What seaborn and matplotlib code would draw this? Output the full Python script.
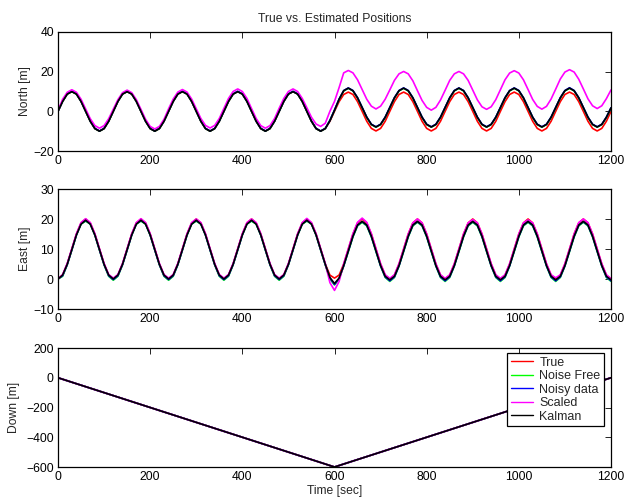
import matplotlib
matplotlib.use("Agg")
import matplotlib.pyplot as plt
import seaborn as sns
import pandas as pd

# ---------------- data ----------------
series_names = ["True", "Noise Free", "Noisy data", "Scaled", "Kalman"]
series_colors = ["#ff0000", "#00ff00", "#0000ff", "#ff00ff", "#000000"]

time = list(range(0, 1201, 10))  # seconds, 10 s sampling

north_true = [
    0, 5, 8.7, 10, 8.7, 5, 0, -5, -8.7, -10, -8.7, -5,
    0, 5, 8.7, 10, 8.7, 5, 0, -5, -8.7, -10, -8.7, -5,
    0, 5, 8.7, 10, 8.7, 5, 0, -5, -8.7, -10, -8.7, -5,
    0, 5, 8.7, 10, 8.7, 5, 0, -5, -8.7, -10, -8.7, -5,
    0, 5, 8.7, 10, 8.7, 5, 0, -5, -8.7, -10, -8.7, -5,
    0, 4.9, 8.5, 9.7, 8.5, 4.9, 0, -5, -8.6, -9.9, -8.6, -5,
    0, 4.9, 8.5, 9.7, 8.5, 4.9, 0, -5, -8.6, -9.9, -8.6, -5,
    0, 4.9, 8.5, 9.7, 8.5, 4.9, 0, -5, -8.6, -9.9, -8.6, -5,
    0, 4.9, 8.5, 9.7, 8.5, 4.9, 0, -5, -8.6, -9.9, -8.6, -5,
    0, 4.9, 8.5, 9.7, 8.5, 4.9, 0, -5, -8.6, -9.9, -8.6, -5,
    0,
]
north_noisefree = [
    0, 5, 8.7, 10, 8.7, 5, 0, -5, -8.7, -10, -8.7, -5,
    0, 5, 8.7, 10, 8.7, 5, 0, -5, -8.7, -10, -8.7, -5,
    0, 5, 8.7, 10, 8.7, 5, 0, -5, -8.7, -10, -8.7, -5,
    0, 5, 8.7, 10, 8.7, 5, 0, -5, -8.7, -10, -8.7, -5,
    0, 5, 8.7, 10, 8.7, 5, 0, -5, -8.7, -10, -8.7, -4.5,
    0.5, 6, 10.3, 11.6, 10.3, 6.7, 1.8, -3.1, -6.7, -8, -6.7, -3.1,
    1.8, 6.7, 10.3, 11.6, 10.3, 6.7, 1.8, -3.1, -6.7, -8, -6.7, -3.1,
    1.8, 6.7, 10.3, 11.6, 10.3, 6.7, 1.8, -3.1, -6.7, -8, -6.7, -3.1,
    1.8, 6.7, 10.3, 11.6, 10.3, 6.7, 1.8, -3.1, -6.7, -8, -6.7, -3.1,
    1.8, 6.7, 10.3, 11.6, 10.3, 6.7, 1.8, -3.1, -6.7, -8, -6.7, -3.1,
    1.6,
]
north_noisy = [
    0, 5.1, 8.8, 10.1, 8.8, 5.1, 0.1, -4.9, -8.6, -9.9, -8.6, -4.9,
    0.1, 5.1, 8.8, 10.1, 8.8, 5.1, 0.1, -4.9, -8.6, -9.9, -8.6, -4.9,
    0.1, 5.1, 8.8, 10.1, 8.8, 5.1, 0.1, -4.9, -8.6, -9.9, -8.6, -4.9,
    0.1, 5.1, 8.8, 10.1, 8.8, 5.1, 0.1, -4.9, -8.6, -9.9, -8.6, -4.9,
    0.1, 5.1, 8.8, 10.1, 8.8, 5.1, 0.1, -4.9, -8.6, -9.9, -8.6, -4.6,
    0.7, 6.2, 10.5, 11.8, 10.5, 6.9, 2, -2.9, -6.5, -7.8, -6.5, -2.9,
    2, 6.9, 10.5, 11.8, 10.5, 6.9, 2, -2.9, -6.5, -7.8, -6.5, -2.9,
    2, 6.9, 10.5, 11.8, 10.5, 6.9, 2, -2.9, -6.5, -7.8, -6.5, -2.9,
    2, 6.9, 10.5, 11.8, 10.5, 6.9, 2, -2.9, -6.5, -7.8, -6.5, -2.9,
    2, 6.9, 10.5, 11.9, 10.5, 6.9, 2, -2.9, -6.5, -7.8, -6.5, -2.9,
    1.8,
]
north_scaled = [
    0.4, 6.1, 9.6, 10.9, 9.6, 6.1, 1.2, -3.7, -7.2, -8.5, -7.2, -3.7,
    1.1, 5.9, 9.4, 10.7, 9.4, 5.9, 1.0, -4.0, -7.6, -8.9, -7.6, -4.0,
    1.3, 6.2, 9.7, 11.0, 9.7, 6.2, 1.3, -3.6, -7.1, -8.4, -7.1, -3.6,
    1.5, 6.5, 10.0, 11.3, 10.0, 6.5, 1.4, -3.6, -7.2, -8.5, -7.2, -3.6,
    1.6, 6.5, 10.0, 11.3, 10.0, 6.5, 1.8, -3.0, -6.4, -7.6, -6.0, 0.0,
    5.0, 12.0, 19.4, 20.6, 19.4, 15.9, 11.0, 6.1, 2.6, 1.2, 2.6, 6.1,
    10.8, 15.6, 18.9, 20.1, 18.9, 15.4, 10.4, 5.5, 2.0, 0.6, 2.0, 5.7,
    10.6, 15.6, 18.9, 20.1, 18.9, 15.6, 10.7, 5.8, 2.3, 1.0, 2.3, 5.9,
    10.9, 15.9, 19.3, 20.5, 19.3, 15.9, 11.0, 6.0, 2.5, 1.1, 2.5, 6.2,
    11.2, 16.3, 19.8, 21.0, 19.8, 16.2, 11.3, 6.3, 2.8, 1.4, 2.8, 6.4,
    10.8,
]
north_kalman = [
    0, 5, 8.7, 9.9, 8.7, 5, 0, -5, -8.7, -10, -8.7, -5,
    0, 5, 8.7, 9.9, 8.7, 5, 0, -5, -8.7, -10, -8.7, -5,
    0, 5, 8.7, 9.9, 8.7, 5, 0, -5, -8.7, -10, -8.7, -5,
    0, 5, 8.7, 9.9, 8.7, 5, 0, -5, -8.7, -10, -8.7, -5,
    0, 5, 8.7, 9.9, 8.7, 5, 0, -5, -8.7, -10, -8.7, -4.8,
    0.5, 6.1, 10.4, 11.7, 10.4, 6.8, 1.9, -3, -6.6, -7.9, -6.6, -3,
    1.9, 6.8, 10.4, 11.7, 10.4, 6.8, 1.9, -3, -6.6, -7.9, -6.6, -3,
    1.9, 6.8, 10.4, 11.7, 10.4, 6.8, 1.9, -3, -6.6, -7.9, -6.6, -3,
    1.9, 6.8, 10.4, 11.7, 10.4, 6.8, 1.9, -3, -6.6, -7.9, -6.6, -3,
    1.9, 6.8, 10.4, 11.7, 10.4, 6.8, 1.9, -3, -6.6, -7.9, -6.6, -3,
    1.7,
]

east_true = [
    0, 1.3, 5, 10, 15, 18.7, 20, 18.7, 15, 10, 5, 1.3,
    0, 1.3, 5, 10, 15, 18.7, 20, 18.7, 15, 10, 5, 1.3,
    0, 1.3, 5, 10, 15, 18.7, 20, 18.7, 15, 10, 5, 1.3,
    0, 1.3, 5, 10, 15, 18.7, 20, 18.7, 15, 10, 5, 1.3,
    0, 1.3, 5, 10, 15, 18.7, 20, 18.7, 15, 10, 5, 1.3,
    0.3, 1.3, 5, 10, 15, 18.7, 20, 18.7, 15, 10, 5, 1.3,
    0, 1.3, 5, 10, 15, 18.7, 20, 18.7, 15, 10, 5, 1.3,
    0, 1.3, 5, 10, 15, 18.7, 20, 18.7, 15, 10, 5, 1.3,
    0, 1.3, 5, 10, 15, 18.7, 20, 18.7, 15, 10, 5, 1.3,
    0, 1.3, 5, 10, 15, 18.7, 20, 18.7, 15, 10, 5, 1.3,
    0,
]
east_noisefree = [
    0, 0.9, 4.7, 9.6, 14.6, 18.3, 19.3, 18.3, 14.6, 9.6, 4.7, 0.9,
    -0.4, 0.9, 4.7, 9.6, 14.6, 18.3, 19.3, 18.3, 14.6, 9.6, 4.7, 0.9,
    -0.4, 0.9, 4.7, 9.6, 14.6, 18.3, 19.3, 18.3, 14.6, 9.6, 4.7, 0.9,
    -0.4, 0.9, 4.7, 9.6, 14.6, 18.3, 19.3, 18.3, 14.6, 9.6, 4.7, 0.9,
    -0.4, 0.9, 4.7, 9.6, 14.6, 18.3, 19.3, 18.3, 14.6, 9.6, 4.7, 0.0,
    -2.0, 0.0, 4.3, 9.1, 14.0, 17.7, 18.9, 17.7, 14.0, 9.1, 4.3, 0.5,
    -0.8, 0.5, 4.3, 9.1, 14.0, 17.7, 18.9, 17.7, 14.0, 9.1, 4.3, 0.5,
    -0.8, 0.5, 4.3, 9.1, 14.0, 17.7, 18.9, 17.7, 14.0, 9.1, 4.3, 0.5,
    -0.8, 0.5, 4.3, 9.1, 14.0, 17.7, 18.9, 17.7, 14.0, 9.1, 4.3, 0.5,
    -0.8, 0.5, 4.3, 9.1, 14.0, 17.7, 18.9, 17.7, 14.0, 9.1, 4.3, 0.5,
    -0.8,
]
east_noisy = [
    0, 1.1, 4.8, 9.7, 14.7, 18.4, 19.5, 18.4, 14.7, 9.7, 4.8, 1.1,
    -0.2, 1.1, 4.8, 9.7, 14.7, 18.4, 19.5, 18.4, 14.7, 9.7, 4.8, 1.1,
    -0.2, 1.1, 4.8, 9.7, 14.7, 18.4, 19.5, 18.4, 14.7, 9.7, 4.8, 1.1,
    -0.2, 1.1, 4.8, 9.7, 14.7, 18.4, 19.5, 18.4, 14.7, 9.7, 4.8, 1.1,
    -0.2, 1.1, 4.8, 9.7, 14.7, 18.4, 19.5, 18.4, 14.7, 9.7, 4.8, 0.3,
    -1.8, 0.2, 4.4, 9.3, 14.2, 17.9, 19.1, 17.9, 14.2, 9.3, 4.4, 0.7,
    -0.6, 0.7, 4.4, 9.3, 14.2, 17.9, 19.1, 17.9, 14.2, 9.3, 4.4, 0.7,
    -0.6, 0.7, 4.4, 9.3, 14.2, 17.9, 19.1, 17.9, 14.2, 9.3, 4.4, 0.7,
    -0.6, 0.7, 4.4, 9.3, 14.2, 17.9, 19.1, 17.9, 14.2, 9.3, 4.4, 0.7,
    -0.6, 0.7, 4.4, 9.3, 14.2, 17.9, 19.1, 17.9, 14.2, 9.3, 4.4, 0.7,
    -0.6,
]
east_scaled = [
    0, 1.5, 5.2, 10.1, 15.1, 18.8, 20.1, 18.8, 15.1, 10.1, 5.2, 1.5,
    0.3, 1.5, 5.2, 10.1, 15.1, 18.8, 20.1, 18.8, 15.1, 10.1, 5.2, 1.5,
    0.3, 1.5, 5.2, 10.1, 15.1, 18.8, 20.0, 18.8, 15.1, 10.1, 5.2, 1.5,
    0.3, 1.5, 5.2, 10.1, 15.1, 18.8, 20.0, 18.8, 15.1, 10.1, 5.2, 1.5,
    0.3, 1.5, 5.2, 10.1, 15.1, 18.8, 20.2, 18.8, 15.1, 10.1, 5.2, -1.2,
    -3.8, -0.8, 5.1, 10.1, 15.1, 18.9, 20.3, 18.9, 15.1, 10.1, 5.1, 1.4,
    0.2, 1.4, 5.1, 10.0, 15.0, 18.7, 20.0, 18.7, 15.0, 10.0, 5.1, 1.4,
    0.2, 1.4, 5.1, 10.0, 15.0, 18.7, 19.8, 18.7, 15.0, 10.0, 5.1, 1.4,
    0.2, 1.4, 5.1, 10.0, 15.0, 18.7, 19.7, 18.7, 15.0, 10.0, 5.1, 1.4,
    0.4, 1.4, 5.1, 10.0, 15.0, 18.8, 20.0, 18.8, 15.0, 10.0, 5.1, 1.4,
    0.1,
]
east_kalman = [
    0, 1.3, 4.9, 9.8, 14.7, 18.3, 19.6, 18.3, 14.7, 9.8, 4.9, 1.3,
    0, 1.3, 4.9, 9.8, 14.7, 18.3, 19.6, 18.3, 14.7, 9.8, 4.9, 1.3,
    0, 1.3, 4.9, 9.8, 14.7, 18.3, 19.6, 18.3, 14.7, 9.8, 4.9, 1.3,
    0, 1.3, 4.9, 9.8, 14.7, 18.3, 19.6, 18.3, 14.7, 9.8, 4.9, 1.3,
    0, 1.3, 4.9, 9.8, 14.7, 18.3, 19.6, 18.3, 14.7, 9.8, 4.9, 0.5,
    -1.5, 0.3, 4.5, 9.4, 14.3, 18.0, 19.2, 18.0, 14.3, 9.4, 4.5, 0.9,
    -0.3, 0.9, 4.5, 9.4, 14.3, 18.0, 19.2, 18.0, 14.3, 9.4, 4.5, 0.9,
    -0.3, 0.9, 4.5, 9.4, 14.3, 18.0, 19.2, 18.0, 14.3, 9.4, 4.5, 0.9,
    -0.3, 0.9, 4.5, 9.4, 14.3, 18.0, 19.2, 18.0, 14.3, 9.4, 4.5, 0.9,
    -0.3, 0.9, 4.5, 9.4, 14.3, 18.0, 19.2, 18.0, 14.3, 9.4, 4.5, 0.9,
    -0.3,
]

down_time = [0, 600, 1200]
down_true = [0, -600, 0]
down_noisefree = [0, -600, 0]
down_noisy = [0, -600, 0]
down_scaled = [0, -600, 0]
down_kalman = [0, -600, 0]

x_ticks = [0, 200, 400, 600, 800, 1000, 1200]
north_ticks = [-20, 0, 20, 40]
east_ticks = [-10, 0, 10, 20, 30]
down_ticks = [-600, -400, -200, 0, 200]


def long_frame(t, cols):
    parts = []
    for name, vals in zip(series_names, cols):
        parts.append(pd.DataFrame({"time": t, "value": vals, "series": name}))
    return pd.concat(parts, ignore_index=True)


df_north = long_frame(time, [north_true, north_noisefree, north_noisy, north_scaled, north_kalman])
df_east = long_frame(time, [east_true, east_noisefree, east_noisy, east_scaled, east_kalman])
df_down = long_frame(down_time, [down_true, down_noisefree, down_noisy, down_scaled, down_kalman])

# ---------------- style ----------------
sns.set_style("white")
plt.rcParams["font.family"] = ["Liberation Sans", "DejaVu Sans"]
FS = 8.7
plt.rcParams["font.size"] = FS

palette = dict(zip(series_names, series_colors))

fig = plt.figure(figsize=(6.24, 4.98), dpi=100)
W, H = 624.0, 498.0
left, right = 58, 611
rows = [(32, 151), (189, 309), (348, 467)]
axes = []
for top, bot in rows:
    ax = fig.add_axes([left / W, 1 - bot / H, (right - left) / W, (bot - top) / H])
    axes.append(ax)

panels = [
    (df_north, "North [m]", (-20, 40), north_ticks, -0.049),
    (df_east, "East [m]", (-10, 30), east_ticks, -0.049),
    (df_down, "Down [m]", (-600, 200), down_ticks, -0.069),
]

for i, (ax, (df, ylab, ylim, yt, lx)) in enumerate(zip(axes, panels)):
    sns.lineplot(
        data=df, x="time", y="value", hue="series", hue_order=series_names,
        palette=palette, estimator=None, sort=False, linewidth=1.2,
        legend=(i == 2), ax=ax,
    )
    ax.set_xlim(0, 1200)
    ax.set_ylim(*ylim)
    ax.set_xticks(x_ticks)
    ax.set_yticks(yt)
    ax.set_ylabel(ylab, fontsize=FS)
    ax.set_xlabel("")
    ax.tick_params(direction="in", top=True, right=True, length=4, width=0.6,
                   labelsize=FS, colors="black", pad=3)
    for sp in ax.spines.values():
        sp.set_visible(True)
        sp.set_color("black")
        sp.set_linewidth(0.9)
    ax.yaxis.set_label_coords(lx, 0.5)

axes[0].set_title("True vs. Estimated Positions", fontsize=FS, pad=7)
axes[2].set_xlabel("Time [sec]", fontsize=FS, labelpad=1)

leg = axes[2].legend(
    loc="upper right", bbox_to_anchor=(0.988, 0.96), borderaxespad=0,
    fontsize=FS + 0.3, frameon=True, fancybox=False, edgecolor="black",
    handlelength=1.75, labelspacing=0.12, borderpad=0.3, handletextpad=0.55,
)
leg.get_frame().set_linewidth(0.9)
leg.get_frame().set_facecolor("white")
leg.get_frame().set_alpha(1.0)
for ln in leg.get_lines():
    ln.set_linewidth(1.0)

fig.savefig("out.png", dpi=100)
